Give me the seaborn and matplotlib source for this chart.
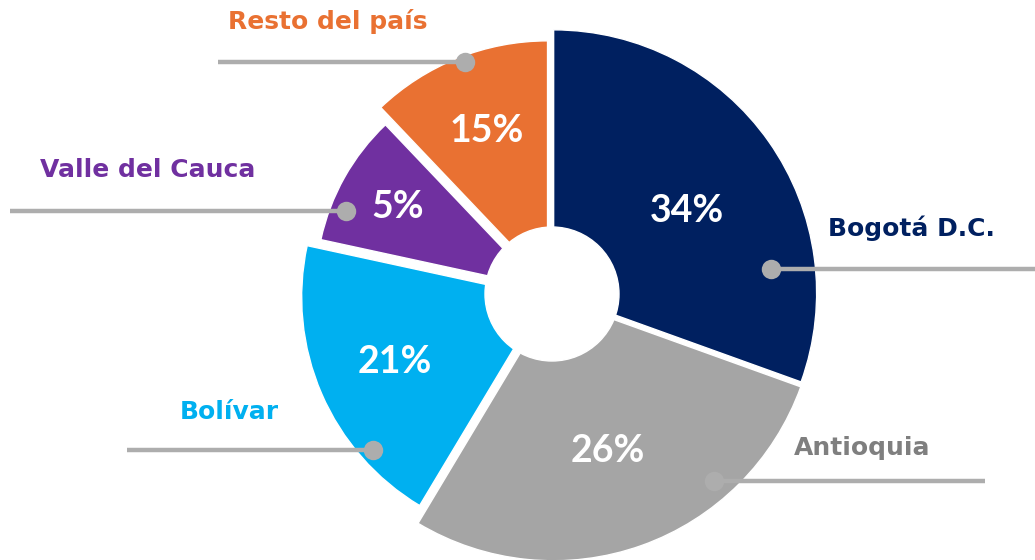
import matplotlib
matplotlib.use("Agg")
import matplotlib.pyplot as plt
import seaborn as sns

# regions, clockwise from the top
regions = ["Bogotá D.C.", "Antioquia", "Bolívar", "Valle del Cauca", "Resto del país"]
# slice sizes as drawn in the picture (angles measured off the slices)
shares = [30.5, 28.1, 19.8, 9.5, 12.1]
# percentages printed on the slices
pct_labels = ["34%", "26%", "21%", "5%", "15%"]

slice_colors = ["#002060", "#A5A5A5", "#00B0F0", "#7030A0", "#E97132"]
text_colors = ["#002060", "#7F7F7F", "#00B0F0", "#7030A0", "#E97132"]

sns.set_theme(style="white")
plt.rcParams["font.family"] = ["Lato", "DejaVu Sans"]

W, H = 1035, 560
fig = plt.figure(figsize=(W / 100, H / 100), dpi=100)
ax = fig.add_axes([0, 0, 1, 1])


def py(y):
    # picture rows run top-down, the axes bottom-up
    return H - y


cx, cy = 552, py(294)
explode = [2, 4, 8, 14, 12]
radii = [263, 263, 243, 224, 242]

wedges, texts = ax.pie(
    shares, labels=pct_labels, colors=sns.color_palette(slice_colors),
    startangle=90, counterclock=False, center=(cx, cy), radius=263,
    explode=explode, labeldistance=0.62,
    textprops=dict(color="white", fontsize=27, fontweight="bold", ha="center", va="center"),
)
for w, r in zip(wedges, radii):
    w.set_radius(r)
for t in texts:
    t.set_zorder(5)
texts[0].set_y(texts[0].get_position()[1] - 12)

# white hole in the middle
ax.add_patch(plt.Circle((cx, cy), 67, color="white", zorder=3))

# leader lines: (x_start, x_end, y, dot_x) and label centre (x, y)
leaders = [(771, 1035, 269, 771), (714, 985, 481, 714), (127, 373, 450, 373),
           (10, 346, 211, 346), (218, 465, 62, 465)]
label_pos = [(911, 228), (862, 448), (229, 412), (148, 170), (328, 22)]

line_col = "#ADADAD"
for name, col, (x0, x1, y, dx), (lx, ly) in zip(regions, text_colors, leaders, label_pos):
    ax.plot([x0, x1], [py(y), py(y)], color=line_col, lw=3.2, solid_capstyle="butt", zorder=6)
    ax.plot([dx], [py(y)], marker="o", ms=14, color=line_col, mec="none", zorder=7)
    ax.text(lx, py(ly), name, color=col, fontsize=18, fontweight="bold",
            family="DejaVu Sans", ha="center", va="center", zorder=8)

ax.set_xlim(0, W)
ax.set_ylim(0, H)
ax.set_aspect("equal")
ax.axis("off")

fig.savefig("out.png", dpi=100, facecolor="white")
